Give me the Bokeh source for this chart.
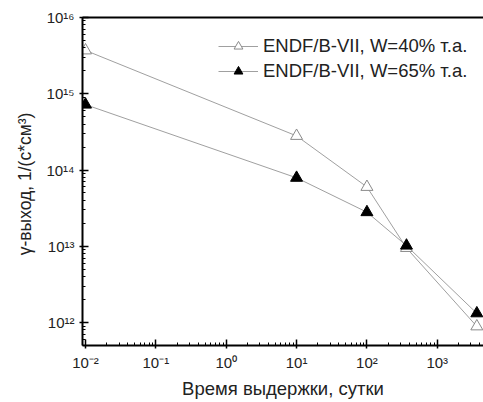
from bokeh.plotting import figure
from bokeh.models import Legend, LegendItem, CustomJSTickFormatter, LogAxis, Range1d, FixedTicker
from bokeh.embed import file_html
from bokeh.resources import INLINE

days = [0.01, 10, 100, 365, 3650]
w40 = [3.7e15, 2.8e14, 6.0e13, 9.5e12, 8.9e11]
w65 = [7.2e14, 7.9e13, 2.8e13, 1.02e13, 1.32e12]
labels = ["ENDF/B-VII, W=40% т.а.", "ENDF/B-VII, W=65% т.а."]

FONT = "Liberation Sans"

p = figure(width=483, height=402, x_axis_type="log", y_axis_type="log",
           x_range=Range1d(0.00906, 4540), y_range=Range1d(5.0e11, 1e16),
           output_backend="svg", toolbar_location=None,
           min_border_left=82, min_border_right=0, min_border_top=17, min_border_bottom=57)
p.background_fill_color = "white"
p.border_fill_color = "white"
p.grid.visible = False
p.outline_line_color = None

l1 = p.line(days, w40, line_color="#a0a0a0", line_width=1)
m1 = p.scatter(days, w40, marker="triangle", size=12, fill_color="white",
               line_color="#8a8a8a", line_width=1)
l2 = p.line(days, w65, line_color="#a0a0a0", line_width=1)
m2 = p.scatter(days, w65, marker="triangle", size=12, fill_color="black",
               line_color="black", line_width=1)

fmt = CustomJSTickFormatter(code="""
const sup = {'-':'\\u207b','0':'\\u2070','1':'\\u00b9','2':'\\u00b2','3':'\\u00b3','4':'\\u2074','5':'\\u2075','6':'\\u2076','7':'\\u2077','8':'\\u2078','9':'\\u2079'};
const e = String(Math.round(Math.log10(tick)));
let s = '';
for (let i = 0; i < e.length; i++) { s += sup[e[i]]; }
return '10' + s;
""")

for ax in (p.xaxis[0], p.yaxis[0]):
    ax.formatter = fmt
    ax.axis_line_width = 2
    ax.axis_line_color = "black"
    ax.major_tick_line_width = 1.5
    ax.minor_tick_line_width = 1
    ax.major_tick_in = 6
    ax.major_tick_out = 3
    ax.minor_tick_in = 3
    ax.minor_tick_out = 0
    ax.major_label_text_font = FONT
    ax.major_label_text_font_size = "15px"
    ax.major_label_text_color = "#222222"
    ax.axis_label_text_font = FONT
    ax.axis_label_text_font_style = "normal"
    ax.axis_label_text_color = "#222222"

p.xaxis.axis_label = "Время выдержки, сутки"
p.yaxis.axis_label = "γ-выход,  1/(с*см³)"
p.xaxis.axis_label_text_font_size = "18.5px"
p.yaxis.axis_label_text_font_size = "17.5px"
p.xaxis.axis_label_standoff = 4
p.yaxis.axis_label_standoff = 8

top = LogAxis(ticker=FixedTicker(ticks=[]), major_tick_line_color=None,
              minor_tick_line_color=None, axis_line_width=2, axis_line_color="black")
p.add_layout(top, "above")

legend = Legend(items=[LegendItem(label=labels[0], renderers=[l1, m1]),
                       LegendItem(label=labels[1], renderers=[l2, m2])],
                location=(136, 263), padding=0, margin=0, spacing=3,
                glyph_width=40, glyph_height=22, label_height=22, label_standoff=5,
                label_text_font=FONT, label_text_font_size="18.5px",
                label_text_color="#222222",
                border_line_color=None, background_fill_alpha=0)
p.add_layout(legend)

open("out.html", "w").write(file_html(p, INLINE))
